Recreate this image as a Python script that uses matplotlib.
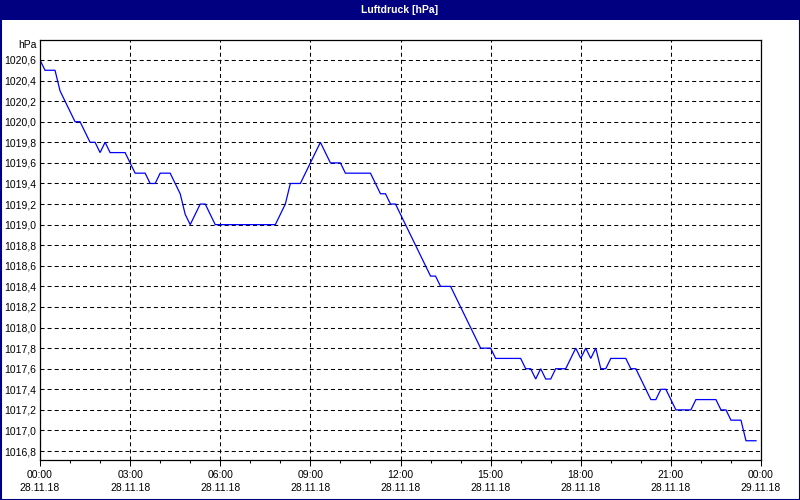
import matplotlib
matplotlib.use("Agg")
import matplotlib.pyplot as plt
import matplotlib.dates as mdates
from matplotlib.patches import Rectangle
from matplotlib.ticker import FuncFormatter, MultipleLocator
import pandas as pd

title = "Luftdruck [hPa]"
unit = "hPa"
start = "2018-11-28 00:00"
end = "2018-11-29 00:00"

pressure = [
    1020.6, 1020.5, 1020.5, 1020.5, 1020.3, 1020.2, 1020.1, 1020.0, 1020.0, 1019.9,
    1019.8, 1019.8, 1019.7, 1019.8, 1019.7, 1019.7, 1019.7, 1019.7, 1019.6, 1019.5,
    1019.5, 1019.5, 1019.4, 1019.4, 1019.5, 1019.5, 1019.5, 1019.4, 1019.3, 1019.1,
    1019.0, 1019.1, 1019.2, 1019.2, 1019.1, 1019.0, 1019.0, 1019.0, 1019.0, 1019.0,
    1019.0, 1019.0, 1019.0, 1019.0, 1019.0, 1019.0, 1019.0, 1019.0, 1019.1, 1019.2,
    1019.4, 1019.4, 1019.4, 1019.5, 1019.6, 1019.7, 1019.8, 1019.7, 1019.6, 1019.6,
    1019.6, 1019.5, 1019.5, 1019.5, 1019.5, 1019.5, 1019.5, 1019.4, 1019.3, 1019.3,
    1019.2, 1019.2, 1019.1, 1019.0, 1018.9, 1018.8, 1018.7, 1018.6, 1018.5, 1018.5,
    1018.4, 1018.4, 1018.4, 1018.3, 1018.2, 1018.1, 1018.0, 1017.9, 1017.8, 1017.8,
    1017.8, 1017.7, 1017.7, 1017.7, 1017.7, 1017.7, 1017.7, 1017.6, 1017.6, 1017.5,
    1017.6, 1017.5, 1017.5, 1017.6, 1017.6, 1017.6, 1017.7, 1017.8, 1017.7, 1017.8,
    1017.7, 1017.8, 1017.6, 1017.6, 1017.7, 1017.7, 1017.7, 1017.7, 1017.6, 1017.6,
    1017.5, 1017.4, 1017.3, 1017.3, 1017.4, 1017.4, 1017.3, 1017.2, 1017.2, 1017.2,
    1017.2, 1017.3, 1017.3, 1017.3, 1017.3, 1017.3, 1017.2, 1017.2, 1017.1, 1017.1,
    1017.1, 1016.9, 1016.9, 1016.9,
]
times = pd.date_range(start=start, periods=len(pressure), freq="10min")

plt.rcParams["font.family"] = ["Liberation Sans", "DejaVu Sans"]
plt.rcParams["lines.scale_dashes"] = False

W, H = 800, 500
fig = plt.figure(figsize=(8, 5), dpi=100, facecolor="white")
ax = fig.add_axes([40 / W, 1 - 460 / H, (761 - 40) / W, (460 - 40) / H])
ax.set_facecolor("white")

ax.plot(times, pressure, color="#0000ff", linewidth=0.9, solid_joinstyle="miter")

ax.set_xlim(pd.Timestamp(start), pd.Timestamp(end))
ax.set_ylim(1016.713, 1020.794)

ax.yaxis.set_major_locator(MultipleLocator(0.2))
ax.yaxis.set_major_formatter(FuncFormatter(lambda v, p: f"{v:.1f}".replace(".", ",")))
ax.xaxis.set_major_locator(mdates.HourLocator(byhour=range(0, 24, 3)))
ax.xaxis.set_minor_locator(mdates.HourLocator())
ax.xaxis.set_major_formatter(mdates.DateFormatter("%H:%M\n%d.%m.%y"))

ax.grid(True, which="major", color="black", linestyle=(0, (2.9, 2.2)), linewidth=0.75)
ax.tick_params(axis="y", length=0, pad=3, labelsize=7.5)
ax.tick_params(axis="x", which="major", length=4, width=0.75, pad=3, labelsize=7.5)
ax.tick_params(axis="x", which="minor", length=2.5, width=0.75)
for lbl in ax.get_xticklabels():
    lbl.set_linespacing(1.45)
for s in ax.spines.values():
    s.set_color("black")
    s.set_linewidth(0.9)

# title bar and frame
fig.patches.append(Rectangle((0, 1 - 20 / H), 1, 20 / H, transform=fig.transFigure,
                             facecolor="#000080", edgecolor="none", zorder=0))
fig.patches.append(Rectangle((0.5 / W, 0.5 / H), 1 - 1 / W, 1 - 1 / H, transform=fig.transFigure,
                             facecolor="none", edgecolor="#000080", linewidth=1.5, zorder=5))
fig.text(0.5, 1 - 10 / H, title, color="white", ha="center", va="center",
         fontsize=7.5, fontweight="bold")
fig.text(37 / W, 1 - 45 / H, unit, ha="right", va="center", fontsize=7.5)

fig.savefig("out.png", dpi=100, facecolor="white")
